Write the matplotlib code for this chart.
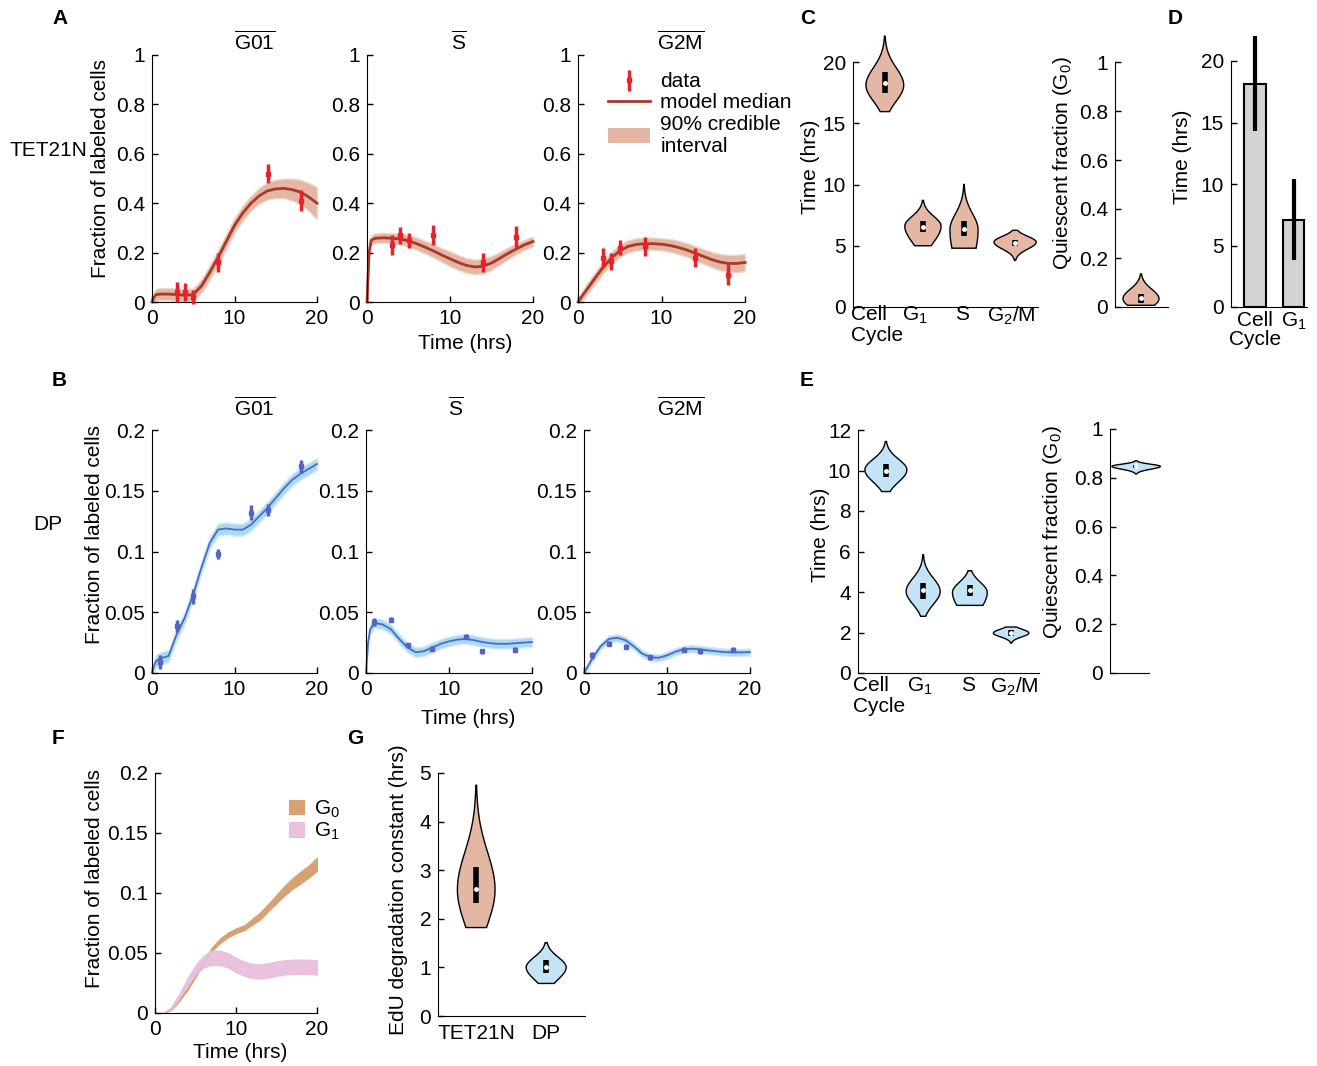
import numpy as np
import matplotlib
matplotlib.use('Agg')
import matplotlib.pyplot as plt
from matplotlib.patches import Patch
from matplotlib.lines import Line2D

plt.rcParams['font.family'] = ['Liberation Sans', 'DejaVu Sans']
plt.rcParams['mathtext.fontset'] = 'custom'
plt.rcParams['mathtext.rm'] = 'Liberation Sans'
plt.rcParams['mathtext.it'] = 'Liberation Sans'
plt.rcParams['font.size'] = 15

W, H = 1317, 1066

# ---- data ----
T = [0, 0.25, 0.5, 1, 2, 3, 4, 5, 6, 7, 8, 9, 10, 11, 12, 13, 14, 15, 16, 17, 18, 19, 20]

# TET21N (panel A)
tet_t = [3, 4, 5, 8, 14, 18]
tet_g01 = [0.04, 0.04, 0.02, 0.16, 0.52, 0.41]
tet_s = [0.23, 0.27, 0.25, 0.27, 0.16, 0.265]
tet_g2m = [0.18, 0.165, 0.22, 0.225, 0.18, 0.11]
tet_err = [0.04, 0.035, 0.03, 0.04, 0.037, 0.042]

tet_g01_med = [0, 0.02, 0.03, 0.032, 0.032, 0.03, 0.027, 0.03, 0.065, 0.12, 0.18, 0.245, 0.31,
               0.36, 0.40, 0.43, 0.45, 0.458, 0.46, 0.455, 0.445, 0.425, 0.40]
tet_g01_hw = [0.01, 0.02, 0.024, 0.024, 0.025, 0.025, 0.025, 0.025, 0.027, 0.03, 0.03, 0.03, 0.03,
              0.03, 0.03, 0.032, 0.035, 0.037, 0.04, 0.045, 0.05, 0.057, 0.065]
tet_s_med = [0, 0.2, 0.25, 0.258, 0.26, 0.258, 0.255, 0.248, 0.236, 0.222, 0.207, 0.19, 0.175,
             0.16, 0.148, 0.142, 0.145, 0.158, 0.177, 0.197, 0.215, 0.232, 0.245]
tet_s_hw = [0.01, 0.02, 0.02, 0.02, 0.02, 0.02, 0.022, 0.024, 0.025, 0.026, 0.027, 0.028, 0.03,
            0.03, 0.03, 0.03, 0.03, 0.028, 0.026, 0.024, 0.022, 0.02, 0.02]
tet_g2m_med = [0, 0.012, 0.025, 0.048, 0.095, 0.14, 0.178, 0.207, 0.225, 0.233, 0.236, 0.236, 0.234,
               0.229, 0.221, 0.211, 0.198, 0.185, 0.172, 0.162, 0.156, 0.156, 0.16]
tet_g2m_hw = [0.01, 0.015, 0.02, 0.022, 0.024, 0.025, 0.025, 0.025, 0.025, 0.025, 0.025, 0.025, 0.025,
              0.026, 0.027, 0.028, 0.029, 0.03, 0.031, 0.033, 0.035, 0.035, 0.035]

# DP (panel B)
dp_t = [1, 3, 5, 8, 12, 14, 18]
dp_g01 = [0.009, 0.039, 0.063, 0.098, 0.132, 0.134, 0.170]
dp_g01_err = [0.006, 0.005, 0.006, 0.004, 0.006, 0.005, 0.005]
dp_s = [0.042, 0.044, 0.023, 0.020, 0.030, 0.018, 0.019]
dp_g2m = [0.0146, 0.024, 0.0215, 0.013, 0.019, 0.018, 0.019]
dp_small_err = [0.003, 0.002, 0.002, 0.002, 0.002, 0.002, 0.002]

dp_g01_med = [0, 0.006, 0.01, 0.012, 0.014, 0.032, 0.046, 0.065, 0.087, 0.107, 0.118, 0.119, 0.118,
              0.118, 0.122, 0.129, 0.136, 0.144, 0.152, 0.159, 0.164, 0.168, 0.172]
dp_s_med = [0, 0.025, 0.036, 0.041, 0.04, 0.036, 0.028, 0.021, 0.017, 0.018, 0.021, 0.024, 0.026,
            0.0275, 0.028, 0.027, 0.0255, 0.0245, 0.024, 0.024, 0.0245, 0.025, 0.0255]
dp_g2m_med = [0, 0.003, 0.006, 0.012, 0.022, 0.028, 0.029, 0.027, 0.022, 0.016, 0.013, 0.0125, 0.0145,
              0.0175, 0.0195, 0.02, 0.0195, 0.0185, 0.0178, 0.0172, 0.017, 0.017, 0.0172]
dp_g01_hw = 0.005
dp_s_hw = 0.004
dp_g2m_hw = 0.003

# panel F
f_g0 = [0, 0, 0, 0, 0.003, 0.011, 0.02, 0.031, 0.042, 0.053, 0.06, 0.065, 0.0685,
        0.071, 0.076, 0.081, 0.088, 0.095, 0.102, 0.108, 0.113, 0.118, 0.124]
f_g0_hw = [0, 0, 0, 0, 0.0005, 0.001, 0.001, 0.001, 0.001, 0.0015, 0.002, 0.002, 0.002,
           0.002, 0.0025, 0.003, 0.003, 0.0035, 0.004, 0.0045, 0.005, 0.005, 0.0055]
f_g1 = [0, 0, 0, 0, 0.004, 0.014, 0.026, 0.036, 0.043, 0.046, 0.046, 0.044, 0.040,
        0.037, 0.035, 0.0345, 0.0355, 0.037, 0.038, 0.0385, 0.0385, 0.0385, 0.038]
f_g1_hw = [0, 0, 0, 0, 0.001, 0.002, 0.003, 0.004, 0.005, 0.006, 0.006, 0.006, 0.006,
           0.006, 0.006, 0.006, 0.006, 0.006, 0.006, 0.006, 0.006, 0.006, 0.006]

# violins: lo, hi, mode, q1, median, q3
phase_labels = ['Cell\nCycle', 'G$_1$', 'S', 'G$_2$/M']
c_lo = [15.95, 5.0, 4.8, 3.8]
c_hi = [22.1, 8.7, 10.0, 6.26]
c_mode = [18.1, 6.6, 6.3, 5.3]
c_q1 = [17.5, 6.1, 5.8, 5.0]
c_med = [18.3, 6.5, 6.35, 5.25]
c_q3 = [19.2, 7.0, 7.0, 5.5]
cq = dict(lo=0.007, hi=0.135, mode=0.034, q1=0.017, med=0.035, q3=0.055)

e_lo = [8.96, 2.8, 3.34, 1.48]
e_hi = [11.43, 5.84, 5.05, 2.27]
e_mode = [10.03, 4.03, 3.98, 1.97]
e_q1 = [9.7, 3.65, 3.78, 1.81]
e_med = [10.0, 4.08, 4.08, 1.97]
e_q3 = [10.3, 4.44, 4.36, 2.14]
eq = dict(lo=0.816, hi=0.870, mode=0.847, q1=0.840, med=0.847, q3=0.852)

g_labels = ['TET21N', 'DP']
g_lo = [1.82, 0.67]
g_hi = [4.75, 1.51]
g_mode = [2.6, 1.0]
g_q1 = [2.32, 0.88]
g_med = [2.62, 1.0]
g_q3 = [3.06, 1.15]

# panel D
d_labels = ['Cell\nCycle', 'G$_1$']
d_vals = [18.1, 7.05]
d_lo = [14.3, 3.8]
d_hi = [22.0, 10.4]

# ---- colours ----
tet_band = '#e4b7a4'
tet_line = '#a8392b'
tet_data = '#e8222a'
dp_band = '#aad9f2'
dp_line = '#4a6cc4'
dp_data = '#5563c2'
vio_tet = '#e4b7a4'
vio_dp = '#c2e4f6'
f_g0_col = '#d6a274'
f_g1_col = '#e8bcdc'

fig = plt.figure(figsize=(W / 100, H / 100), dpi=100)


def add_ax(x0, x1, ytop, ybot):
    ax = fig.add_axes([x0 / W, 1 - ybot / H, (x1 - x0) / W, (ybot - ytop) / H])
    ax.spines['top'].set_visible(False)
    ax.spines['right'].set_visible(False)
    ax.tick_params(direction='in', length=4, width=1, labelsize=15, pad=5)
    return ax


def ftext(x, y, s, **kw):
    fig.text(x / W, 1 - y / H, s, **kw)


def band_plot(ax, med, hw, band, line, lw):
    med = np.array(med)
    lo = med - np.array(hw)
    hi = med + np.array(hw)
    ax.fill_between(T, np.clip(lo, 0, None), hi, color=band, edgecolor='#f1d8cc' if band == tet_band else '#d4ecf8',
                    lw=1, clip_on=False)
    ax.plot(T, med, color=line, lw=lw, clip_on=False)


def violin(ax, x, lo, hi, mode, half, rb, rt, q1, med, q3, color):
    y = np.linspace(lo, hi, 300)
    s_lo = (mode - lo) / np.sqrt(2 * np.log(1 / rb))
    s_hi = (hi - mode) / np.sqrt(2 * np.log(1 / rt))
    s = np.where(y < mode, s_lo, s_hi)
    w = half * np.exp(-0.5 * ((y - mode) / s) ** 2)
    xs = np.concatenate([x - w, (x + w)[::-1], [x - w[0]]])
    ys = np.concatenate([y, y[::-1], [y[0]]])
    ax.fill(xs, ys, facecolor=color, edgecolor='black', lw=1, clip_on=False, zorder=2)
    ax.plot([x, x], [q1, q3], color='black', lw=4, solid_capstyle='butt', clip_on=False, zorder=3)
    ax.plot(x, med, 'o', color='white', ms=2.5, mec='white', clip_on=False, zorder=4)


ticks01 = [0, 0.2, 0.4, 0.6, 0.8, 1]
ticks01_lab = ['0', '0.2', '0.4', '0.6', '0.8', '1']
ticks02 = [0, 0.05, 0.1, 0.15, 0.2]
ticks02_lab = ['0', '0.05', '0.1', '0.15', '0.2']

# ---- panel A ----
a_boxes = [(152, 317), (367, 533), (578, 745)]
a_meds = [tet_g01_med, tet_s_med, tet_g2m_med]
a_hws = [tet_g01_hw, tet_s_hw, tet_g2m_hw]
a_data = [tet_g01, tet_s, tet_g2m]
a_titles = [(255, r'$\overline{\mathrm{G01}}$'), (459, r'$\overline{\mathrm{S}}$'), (681, r'$\overline{\mathrm{G2M}}$')]
for i in range(3):
    ax = add_ax(a_boxes[i][0], a_boxes[i][1], 55, 302)
    band_plot(ax, a_meds[i], a_hws[i], tet_band, tet_line, 2)
    eb = ax.errorbar(tet_t, a_data[i], yerr=tet_err, fmt='s', ms=3, color=tet_data,
                     elinewidth=2.5, capsize=0, clip_on=False, zorder=5)
    ax.set_xlim(0, 20)
    ax.set_ylim(0, 1)
    ax.set_xticks([0, 10, 20])
    ax.set_yticks(ticks01)
    ax.set_yticklabels(ticks01_lab)
    ftext(a_titles[i][0], 42, a_titles[i][1], ha='center', va='center', fontsize=15)
    if i == 2:
        handles = [eb, Line2D([], [], color=tet_line, lw=2), Patch(facecolor=tet_band, edgecolor='none')]
        ax.legend(handles, ['data', 'model median', '90% credible\ninterval'], loc='upper left',
                  bbox_to_anchor=(598 / W, 1 - 62 / H), bbox_transform=fig.transFigure, frameon=False,
                  fontsize=15, handlelength=2.0, handletextpad=0.5, labelspacing=0.1, borderpad=0)

ftext(100, 168, 'Fraction of labeled cells', rotation=90, ha='center', va='center')
ftext(10, 150, 'TET21N', ha='left', va='center')
ftext(465, 343, 'Time (hrs)', ha='center', va='center')

# ---- panel B ----
b_boxes = [(152, 317), (366, 532), (584, 750)]
b_meds = [dp_g01_med, dp_s_med, dp_g2m_med]
b_hws = [dp_g01_hw, dp_s_hw, dp_g2m_hw]
b_data = [dp_g01, dp_s, dp_g2m]
b_errs = [dp_g01_err, dp_small_err, dp_small_err]
b_titles = [(255, r'$\overline{\mathrm{G01}}$'), (456, r'$\overline{\mathrm{S}}$'), (681, r'$\overline{\mathrm{G2M}}$')]
for i in range(3):
    ax = add_ax(b_boxes[i][0], b_boxes[i][1], 430, 673)
    band_plot(ax, b_meds[i], [b_hws[i]] * len(T), dp_band, dp_line, 1.3)
    ax.errorbar(dp_t, b_data[i], yerr=b_errs[i], fmt='s', ms=3, color=dp_data,
                elinewidth=2.5, capsize=0, clip_on=False, zorder=5)
    ax.set_xlim(0, 20)
    ax.set_ylim(0, 0.2)
    ax.set_xticks([0, 10, 20])
    ax.set_yticks(ticks02)
    ax.set_yticklabels(ticks02_lab)
    ftext(b_titles[i][0], 408, b_titles[i][1], ha='center', va='center', fontsize=15)

ftext(95, 535, 'Fraction of labeled cells', rotation=90, ha='center', va='center')
ftext(33, 525, 'DP', ha='left', va='center')
ftext(468, 718, 'Time (hrs)', ha='center', va='center')

# ---- panel C ----
ax = add_ax(853, 1038, 62, 307)
c_pos = [0.86, 1.89, 3.0, 4.38]
c_half = [0.51, 0.49, 0.38, 0.57]
c_rb = [0.25, 0.46, 0.86, 0.03]
c_rt = [0.02, 0.03, 0.02, 0.12]
for i in range(4):
    violin(ax, c_pos[i], c_lo[i], c_hi[i], c_mode[i], c_half[i], c_rb[i], c_rt[i],
           c_q1[i], c_med[i], c_q3[i], vio_tet)
ax.set_xlim(0, 5)
ax.set_ylim(0, 20)
ax.set_xticks([])
ax.set_yticks([0, 5, 10, 15, 20])
c_lab_x = [851, 915, 962, 1011]
for i in range(4):
    ftext(c_lab_x[i], 305, phase_labels[i], ha='left' if i == 0 else 'center', va='top',
          linespacing=1.15)
ftext(811, 167, 'Time (hrs)', rotation=90, ha='center', va='center')

ax = add_ax(1115, 1168, 62, 307)
violin(ax, 0.49, cq['lo'], cq['hi'], cq['mode'], 0.34, 0.75, 0.03, cq['q1'], cq['med'], cq['q3'], vio_tet)
ax.set_xlim(0, 1)
ax.set_ylim(0, 1)
ax.set_xticks([])
ax.set_yticks(ticks01)
ax.set_yticklabels(ticks01_lab)
ftext(1062, 163, 'Quiescent fraction (G$_0$)', rotation=90, ha='center', va='center')

# ---- panel D ----
ax = add_ax(1231, 1307, 61, 307)
d_pos = [1.1, 2.88]
d_err = [np.array(d_vals) - np.array(d_lo), np.array(d_hi) - np.array(d_vals)]
ax.bar(d_pos, d_vals, width=1.0, color='#d3d3d3', edgecolor='black', lw=1.5)
ax.errorbar(d_pos, d_vals, yerr=d_err, fmt='none', ecolor='black', elinewidth=3, capsize=0, clip_on=False)
ax.set_xlim(0, 3.5)
ax.set_ylim(0, 20)
ax.set_xticks(d_pos)
ax.set_xticklabels(d_labels, linespacing=1.0)
ax.tick_params(axis='x', length=0, pad=3)
ax.set_yticks([0, 5, 10, 15, 20])
ftext(1183, 157, 'Time (hrs)', rotation=90, ha='center', va='center')

# ---- panel E ----
ax = add_ax(858, 1039, 430, 673)
e_pos = [0.77, 1.80, 3.09, 4.23]
e_half = [0.58, 0.47, 0.48, 0.49]
e_rb = [0.2, 0.15, 0.75, 0.03]
e_rt = [0.03, 0.02, 0.1, 0.3]
for i in range(4):
    violin(ax, e_pos[i], e_lo[i], e_hi[i], e_mode[i], e_half[i], e_rb[i], e_rt[i],
           e_q1[i], e_med[i], e_q3[i], vio_dp)
ax.set_xlim(0, 5)
ax.set_ylim(0, 12)
ax.set_xticks([])
ax.set_yticks([0, 2, 4, 6, 8, 10, 12])
e_lab_x = [853, 920, 968, 1014]
for i in range(4):
    ftext(e_lab_x[i], 676, phase_labels[i], ha='left' if i == 0 else 'center', va='top',
          linespacing=1.15)
ftext(820, 535, 'Time (hrs)', rotation=90, ha='center', va='center')

ax = add_ax(1110, 1149, 429, 673)
violin(ax, 0.67, eq['lo'], eq['hi'], eq['mode'], 0.62, 0.03, 0.03, eq['q1'], eq['med'], eq['q3'], vio_dp)
ax.set_xlim(0, 1)
ax.set_ylim(0, 1)
ax.set_xticks([])
ax.set_yticks(ticks01)
ax.set_yticklabels(ticks01_lab)
ftext(1053, 532, 'Quiescent fraction (G$_0$)', rotation=90, ha='center', va='center')

# ---- panel F ----
ax = add_ax(155, 317, 773, 1013)
ax.fill_between(T, np.array(f_g0) - np.array(f_g0_hw), np.array(f_g0) + np.array(f_g0_hw),
                color=f_g0_col, lw=0.8, edgecolor=f_g0_col, label='G$_0$')
ax.fill_between(T, np.array(f_g1) - np.array(f_g1_hw), np.array(f_g1) + np.array(f_g1_hw),
                color=f_g1_col, lw=0.8, edgecolor=f_g1_col, alpha=0.9, label='G$_1$')
ax.set_xlim(0, 20)
ax.set_ylim(0, 0.2)
ax.set_xticks([0, 10, 20])
ax.set_yticks(ticks02)
ax.set_yticklabels(ticks02_lab)
ax.legend(loc='upper left', bbox_to_anchor=(279 / W, 1 - 788 / H), bbox_transform=fig.transFigure,
          frameon=False, fontsize=15, handlelength=0.7, handleheight=0.7, handletextpad=0.5,
          labelspacing=0.05, borderpad=0)
ftext(95, 878, 'Fraction of labeled cells', rotation=90, ha='center', va='center')
ftext(240, 1053, 'Time (hrs)', ha='center', va='center')

# ---- panel G ----
ax = add_ax(438, 585, 773, 1016)
g_pos = [1.3, 3.68]
g_half = [0.64, 0.68]
g_rb = [0.55, 0.4]
g_rt = [0.02, 0.05]
g_cols = [vio_tet, vio_dp]
for i in range(2):
    violin(ax, g_pos[i], g_lo[i], g_hi[i], g_mode[i], g_half[i], g_rb[i], g_rt[i],
           g_q1[i], g_med[i], g_q3[i], g_cols[i])
ax.set_xlim(0, 5)
ax.set_ylim(0, 5)
ax.set_xticks(g_pos)
ax.set_xticklabels(g_labels)
ax.tick_params(axis='x', length=0, pad=6)
ax.set_yticks([0, 1, 2, 3, 4, 5])
ftext(398, 890, 'EdU degradation constant (hrs)', rotation=90, ha='center', va='center')

# panel letters
for x, y, s in [(52, 18, 'A'), (52, 381, 'B'), (800, 18, 'C'), (1168, 18, 'D'),
                (800, 381, 'E'), (52, 738, 'F'), (347, 738, 'G')]:
    ftext(x, y, s, ha='left', va='center', fontweight='bold', fontsize=15)

fig.savefig('out.png', dpi=100)
